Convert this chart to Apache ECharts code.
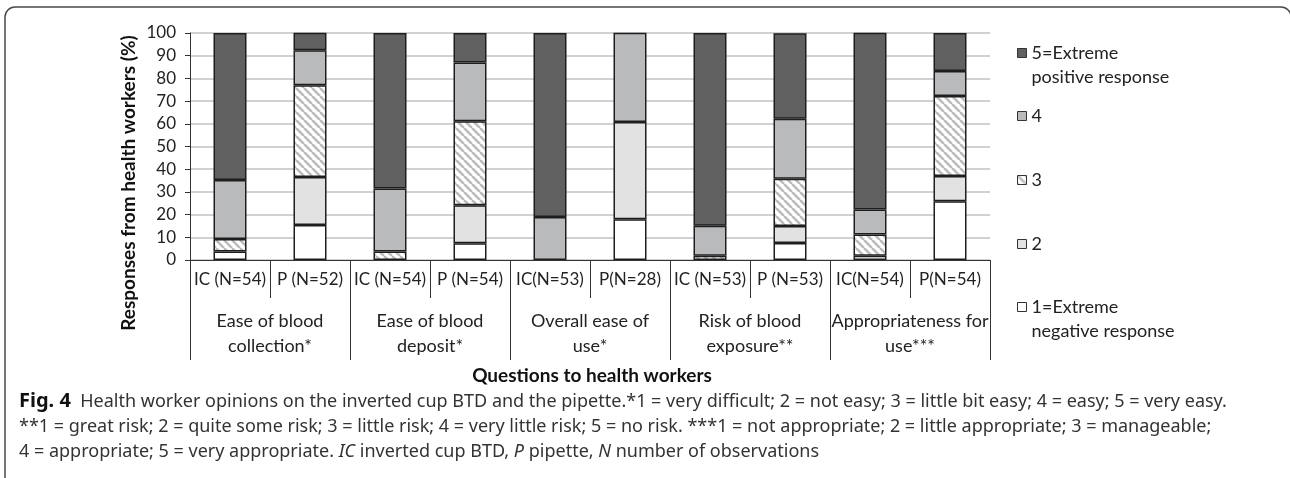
<!DOCTYPE html>
<html>
<head>
<meta charset="utf-8">
<script src="https://cdn.jsdelivr.net/npm/echarts@6/dist/echarts.min.js"></script>
<style>
  html, body { margin: 0; padding: 0; background: #fff; }
  #chart { width: 1290px; height: 478px; }
</style>
</head>
<body>
<div id="chart"></div>
<script>
// 子类别（每根柱子）
const subLabels = ['IC (N=54)', 'P (N=52)', 'IC (N=54)', 'P (N=54)', 'IC(N=53)', 'P(N=28)', 'IC (N=53)', 'P (N=53)', 'IC(N=54)', 'P(N=54)']
// 问题分组
const groupLabels = ['Ease of blood\ncollection*', 'Ease of blood\ndeposit*', 'Overall ease of\nuse*', 'Risk of blood\nexposure**', 'Appropriateness for\nuse***']
const yTicks = [0, 10, 20, 30, 40, 50, 60, 70, 80, 90, 100]

// 各评分的百分比
const resp1 = [3.7, 15.4, 0, 7.4, 0, 17.9, 0, 7.5, 1.9, 25.9]
const resp2 = [0, 21.2, 0, 16.7, 0, 42.9, 0, 7.5, 0, 11.1]
const resp3 = [5.6, 40.4, 3.7, 37.0, 0, 0, 1.9, 20.8, 9.3, 35.2]
const resp4 = [25.9, 15.4, 27.8, 25.9, 18.9, 39.3, 13.2, 26.4, 11.1, 11.1]
const resp5 = [64.8, 7.7, 68.5, 13.0, 81.1, 0, 84.9, 37.7, 77.8, 16.7]

const seriesNames = ['1=Extreme negative response', '2', '3', '4', '5=Extreme positive response']
const legendText = [' \n1=Extreme\nnegative response', '2', '3', '4', ' \n5=Extreme\npositive response']

const FONT = 'Lato'
const INK = '#222'

// 斜线填充
const hatch = document.createElement('canvas')
hatch.width = 8
hatch.height = 8
const hctx = hatch.getContext('2d')
hctx.fillStyle = '#fff'
hctx.fillRect(0, 0, 8, 8)
hctx.strokeStyle = '#bcbcbc'
hctx.lineWidth = 2.6
for (let x = -8; x <= 8; x += 8) {
  hctx.beginPath()
  hctx.moveTo(x, 0)
  hctx.lineTo(x + 8, 8)
  hctx.stroke()
}

const fills = ['#ffffff', '#e2e2e2', { image: hatch, repeat: 'repeat' }, '#b9babc', '#606060']
const values = [resp1, resp2, resp3, resp4, resp5]

const chart = echarts.init(document.getElementById('chart'))

const series = values.map((arr, i) => ({
  name: seriesNames[i],
  type: 'bar',
  stack: 'total',
  xAxisIndex: 0,
  barWidth: 33,
  itemStyle: {
    color: fills[i],
    borderColor: '#1e1e1e',
    borderWidth: 1.5
  },
  data: arr.map(v => (v === 0 ? '-' : v))
}))

// 图例中心位置（从上到下：5,4,3,2,1）
const legendCenters = [307, 244, 180, 116, 53]
const legends = seriesNames.map((name, i) => {
  const multi = legendText[i].indexOf('\n') >= 0
  return {
    data: [{ name: name, icon: 'rect' }],
    left: 1017,
    top: legendCenters[i] - (multi ? 36 : 12),
    padding: 0,
    itemWidth: 9,
    itemHeight: 9,
    selectedMode: false,
    itemStyle: { borderColor: '#333', borderWidth: 1 },
    formatter: () => legendText[i],
    textStyle: { fontFamily: FONT, fontSize: 18, color: INK, lineHeight: 24 }
  }
})

const option = {
  animation: false,
  backgroundColor: '#fff',
  grid: { left: 190, right: 300, top: 33, bottom: 218 },
  legend: legends,
  title: [
    {
      text: 'Questions to health workers',
      left: 592,
      top: 366,
      textAlign: 'center',
      padding: 0,
      textStyle: { fontFamily: FONT, fontSize: 19, fontWeight: 'bold', color: '#111' }
    },
    {
      text: '{b|Fig. 4}  Health worker opinions on the inverted cup BTD and the pipette.*1 = very difficult; 2 = not easy; 3 = little bit easy; 4 = easy; 5 = very easy.\n' +
        '**1 = great risk; 2 = quite some risk; 3 = little risk; 4 = very little risk; 5 = no risk. ***1 = not appropriate; 2 = little appropriate; 3 = manageable;\n' +
        '4 = appropriate; 5 = very appropriate. {i|IC} inverted cup BTD, {i|P} pipette, {i|N} number of observations',
      left: 19,
      top: 389,
      padding: 0,
      textStyle: {
        fontFamily: 'Noto Sans',
        fontSize: 18,
        fontWeight: 'normal',
        color: '#333',
        lineHeight: 25,
        rich: {
          b: { fontFamily: 'Noto Sans', fontSize: 20, fontWeight: 'bold', color: '#111', lineHeight: 25 },
          i: { fontFamily: 'Noto Sans', fontSize: 18, fontStyle: 'italic', color: '#333', lineHeight: 25 }
        }
      }
    }
  ],
  xAxis: [
    {
      type: 'category',
      data: subLabels,
      position: 'bottom',
      axisLine: { lineStyle: { color: '#333', width: 1 } },
      axisTick: { show: true, interval: 0, length: 38, lineStyle: { color: '#333', width: 1 } },
      axisLabel: { interval: 0, margin: 11, fontFamily: FONT, fontSize: 17, color: INK }
    },
    {
      type: 'category',
      data: groupLabels,
      position: 'bottom',
      offset: 0,
      axisLine: { show: false },
      axisTick: { show: true, interval: 0, length: 100, lineStyle: { color: '#333', width: 1 } },
      axisLabel: { interval: 0, margin: 49, fontFamily: FONT, fontSize: 18, color: INK, lineHeight: 25 }
    }
  ],
  yAxis: {
    type: 'value',
    min: yTicks[0],
    max: yTicks[yTicks.length - 1],
    interval: 10,
    axisLine: { show: true, lineStyle: { color: '#333', width: 1 } },
    axisTick: { show: true, length: 5, lineStyle: { color: '#333' } },
    axisLabel: { margin: 14, fontFamily: FONT, fontSize: 17, color: INK },
    splitLine: { lineStyle: { color: '#c2c2c2', width: 1.5 } }
  },
  graphic: [
    {
      type: 'text',
      x: 129,
      y: 183,
      rotation: Math.PI / 2,
      style: {
        text: 'Responses from health workers (%)',
        font: 'bold 19px Lato',
        fill: '#111',
        align: 'center',
        verticalAlign: 'middle'
      }
    },
    {
      type: 'rect',
      shape: { x: 5, y: 7, width: 1286, height: 520, r: [10, 10, 0, 0] },
      style: { fill: null, stroke: '#4a4a4a', lineWidth: 1.5 }
    }
  ],
  series: series
}

chart.setOption(option)
window.addEventListener('resize', () => chart.resize())
</script>
</body>
</html>
